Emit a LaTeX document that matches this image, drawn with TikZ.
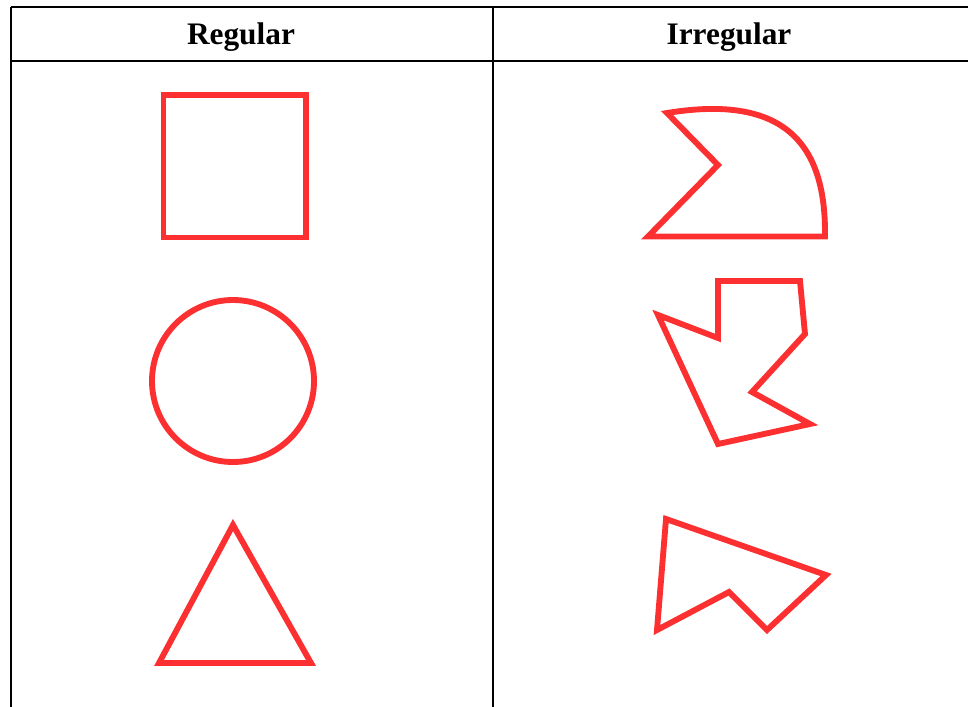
\documentclass[tikz,border=0pt]{standalone}
\usepackage{fontspec}
\setmainfont{Liberation Serif}
\definecolor{shapered}{RGB}{252,48,48}
\begin{document}
\begin{tikzpicture}[x=0.75pt,y=-0.75pt,
  gridline/.style={line width=1.4pt,draw=black},
  shapeline/.style={line width=4.4pt,draw=shapered,line join=miter,miter limit=10},
  headtext/.style={font=\fontsize{23.5}{27}\selectfont\bfseries,anchor=base,inner sep=0pt}]
\useasboundingbox (0,0) rectangle (968,707);
% table
\coordinate (tl) at (11,7);
\coordinate (tr) at (968,7);
\coordinate (hl) at (11,61);
\coordinate (hr) at (968,61);
\coordinate (bl) at (11,707);
\coordinate (mt) at (493,7);
\coordinate (mb) at (493,707);
\draw[gridline] (tl) -- (tr);
\draw[gridline] (hl) -- (hr);
\draw[gridline] (tl) -- (bl);
\draw[gridline] (mt) -- (mb);
\node[headtext] (hreg) at (241,44) {Regular};
\node[headtext] (hirr) at (729,44) {Irregular};
% regular shapes
\draw[shapeline] (163.5,95) rectangle (306,237.5);
\draw[shapeline] (233,381) circle[radius=81];
\draw[shapeline] (233,525) -- (311,663) -- (159,663) -- cycle;
% irregular shapes
\draw[shapeline] (667,113) -- (718,165) -- (648,236.5) -- (825,236.5)
  .. controls (826,155) and (795,92) .. (667,113) -- cycle;
\draw[shapeline] (718,281) -- (800,281) -- (805,334) -- (752,392) -- (810,424)
  -- (718,444) -- (658,315) -- (718,338) -- cycle;
\draw[shapeline] (666,519) -- (826,575) -- (767,630) -- (729,592) -- (657,630) -- cycle;
\end{tikzpicture}
\end{document}
